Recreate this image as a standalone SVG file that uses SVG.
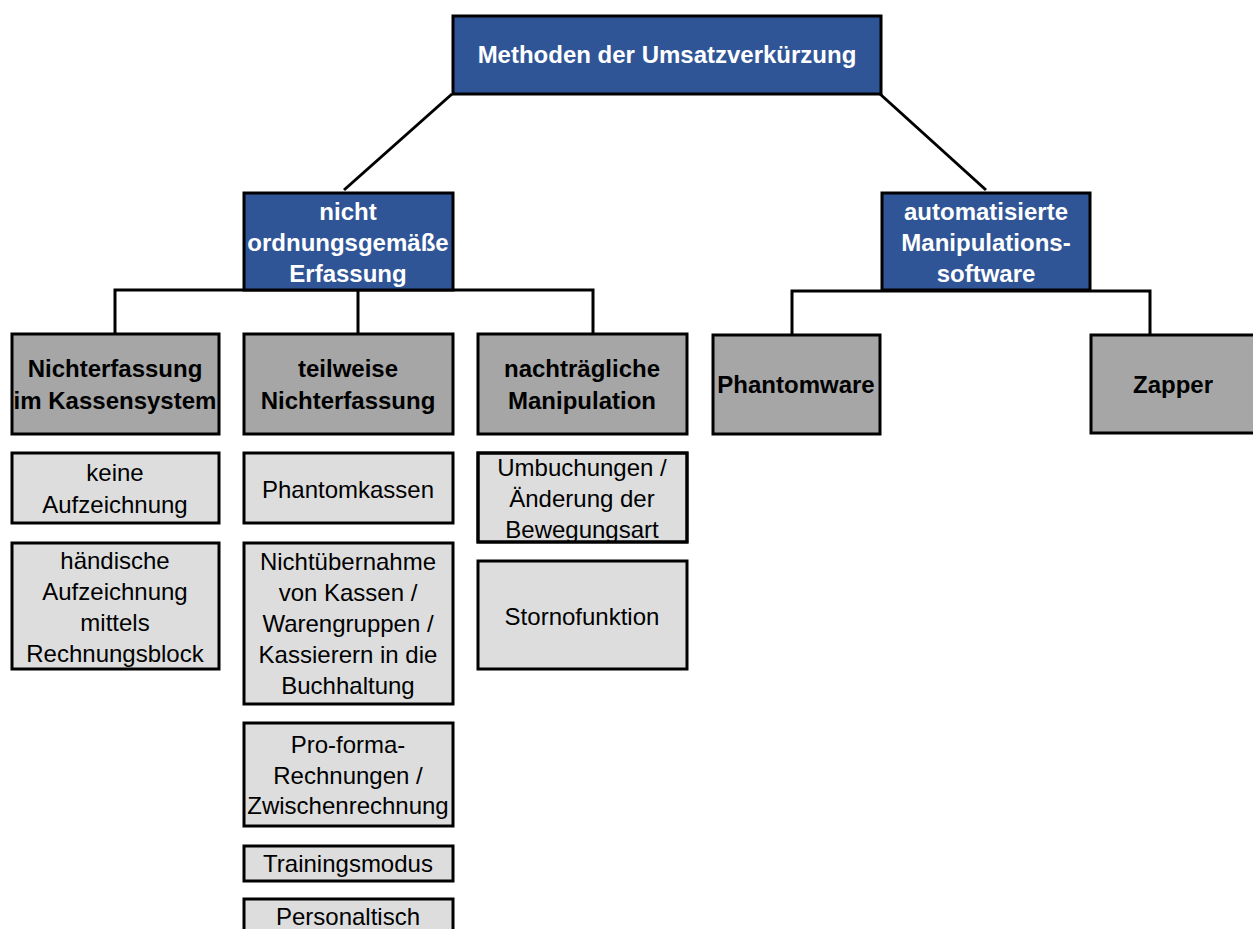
<svg xmlns="http://www.w3.org/2000/svg" width="1253" height="929" viewBox="0 0 1253 929">
<defs>
<clipPath id="clipUmb"><rect x="478" y="453" width="209" height="88"/></clipPath>
</defs>
<style>
.blue{fill:#2f5597;stroke:#000;stroke-width:3}
.dark{fill:#a6a6a6;stroke:#000;stroke-width:3}
.light{fill:#dddddd;stroke:#000;stroke-width:3}
.tb{font-family:"Liberation Sans",Arial,sans-serif;font-weight:bold;font-size:24px;text-anchor:middle;fill:#fff}
.td{font-family:"Liberation Sans",Arial,sans-serif;font-weight:bold;font-size:24px;text-anchor:middle;fill:#000}
.tl{font-family:"Liberation Sans",Arial,sans-serif;font-size:24px;text-anchor:middle;fill:#000}
.c{fill:none;stroke:#000;stroke-width:3}
</style>
<rect width="1253" height="929" fill="#fff"/>
<g id="connectors">
<line class="c" x1="452" y1="94" x2="344" y2="190"/>
<line class="c" x1="880" y1="94" x2="986" y2="190"/>
<polyline class="c" points="115,333 115,290 593,290 593,333"/>
<line class="c" x1="358" y1="290" x2="358" y2="333"/>
<polyline class="c" points="792,334 792,291 1150,291 1150,334"/>
</g>
<g id="root">
<rect class="blue" x="453" y="16" width="428" height="78"/>
<text class="tb" x="667" y="63">Methoden der Umsatzverkürzung</text>
</g>
<g id="n-nicht">
<rect class="blue" x="244" y="193" width="209" height="97"/>
<text class="tb" x="348" y="220">nicht</text>
<text class="tb" x="348" y="251">ordnungsgemäße</text>
<text class="tb" x="348" y="282">Erfassung</text>
</g>
<g id="n-auto">
<rect class="blue" x="882" y="193" width="208" height="97"/>
<text class="tb" x="986" y="220">automatisierte</text>
<text class="tb" x="986" y="251">Manipulations-</text>
<text class="tb" x="986" y="282">software</text>
</g>
<g id="n-nichterfassung">
<rect class="dark" x="12" y="334" width="207" height="100"/>
<text class="td" x="115" y="377">Nichterfassung</text>
<text class="td" x="115" y="409">im Kassensystem</text>
</g>
<g id="n-teilweise">
<rect class="dark" x="244" y="334" width="209" height="100"/>
<text class="td" x="348" y="377">teilweise</text>
<text class="td" x="348" y="409">Nichterfassung</text>
</g>
<g id="n-nachtraeglich">
<rect class="dark" x="478" y="334" width="209" height="100"/>
<text class="td" x="582" y="377">nachträgliche</text>
<text class="td" x="582" y="409">Manipulation</text>
</g>
<g id="n-phantomware">
<rect class="dark" x="713" y="335" width="167" height="99"/>
<text class="td" x="796" y="393">Phantomware</text>
</g>
<g id="n-zapper">
<rect class="dark" x="1091" y="335" width="170" height="98"/>
<text class="td" x="1173" y="393">Zapper</text>
</g>
<g id="n-keine">
<rect class="light" x="12" y="453" width="207" height="70"/>
<text class="tl" x="115" y="481">keine</text>
<text class="tl" x="115" y="513">Aufzeichnung</text>
</g>
<g id="n-haendisch">
<rect class="light" x="12" y="543" width="207" height="126"/>
<text class="tl" x="115" y="569">händische</text>
<text class="tl" x="115" y="600">Aufzeichnung</text>
<text class="tl" x="115" y="631">mittels</text>
<text class="tl" x="115" y="662">Rechnungsblock</text>
</g>
<g id="n-phantomkassen">
<rect class="light" x="244" y="453" width="209" height="70"/>
<text class="tl" x="348" y="498">Phantomkassen</text>
</g>
<g id="n-nichtuebernahme">
<rect class="light" x="244" y="543" width="209" height="161"/>
<text class="tl" x="348" y="570">Nichtübernahme</text>
<text class="tl" x="348" y="601">von Kassen /</text>
<text class="tl" x="348" y="632">Warengruppen /</text>
<text class="tl" x="348" y="663">Kassierern in die</text>
<text class="tl" x="348" y="694">Buchhaltung</text>
</g>
<g id="n-proforma">
<rect class="light" x="244" y="723" width="209" height="103"/>
<text class="tl" x="348" y="753">Pro-forma-</text>
<text class="tl" x="348" y="784">Rechnungen /</text>
<text class="tl" x="348" y="814">Zwischenrechnung</text>
</g>
<g id="n-training">
<rect class="light" x="244" y="846" width="209" height="35"/>
<text class="tl" x="348" y="872">Trainingsmodus</text>
</g>
<g id="n-personaltisch">
<rect class="light" x="244" y="899" width="209" height="50"/>
<text class="tl" x="348" y="925">Personaltisch</text>
</g>
<g id="n-umbuchungen">
<rect class="light" x="478" y="453" width="209" height="89"/>
<g clip-path="url(#clipUmb)">
<text class="tl" x="582" y="476">Umbuchungen /</text>
<text class="tl" x="582" y="507">Änderung der</text>
<text class="tl" x="582" y="538">Bewegungsart</text>
</g>
<rect x="478" y="453" width="209" height="89" fill="none" stroke="#000" stroke-width="3"/>
</g>
<g id="n-storno">
<rect class="light" x="478" y="561" width="209" height="108"/>
<text class="tl" x="582" y="625">Stornofunktion</text>
</g>
</svg>
